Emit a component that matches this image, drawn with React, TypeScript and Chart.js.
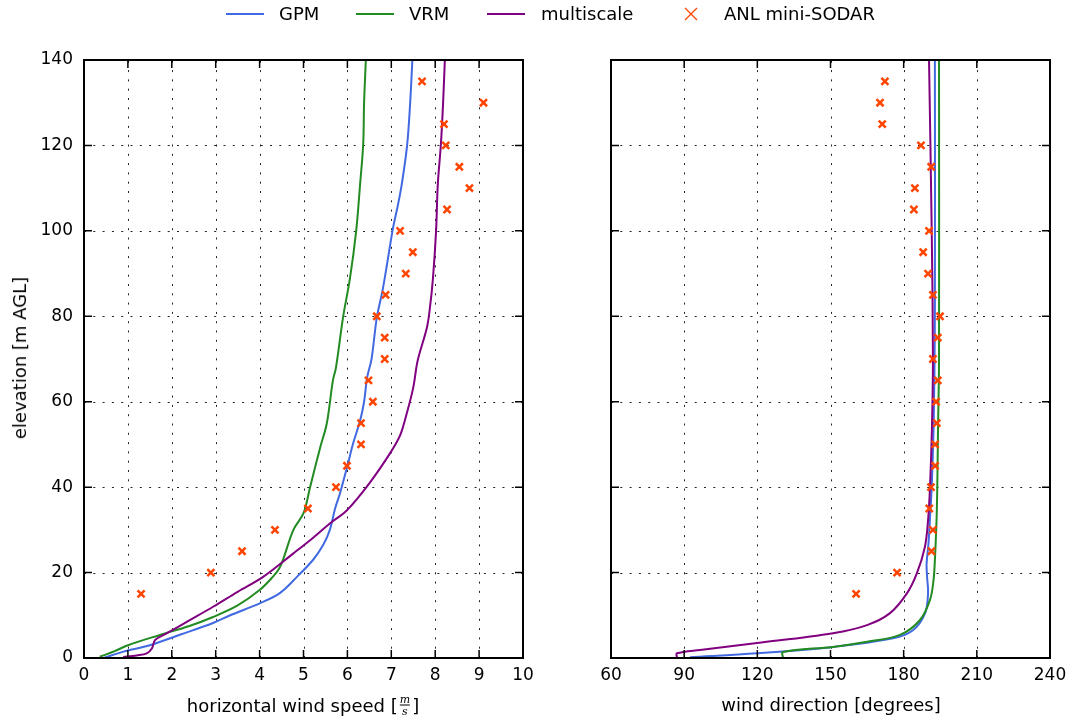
import React, { useEffect, useRef } from "react";
import { Chart, registerables } from "chart.js";

Chart.register(...registerables);

// ---------- data ----------
// left panel: horizontal wind speed [m/s] vs elevation [m AGL]
const gpmSpeed = [0.45, 0.9, 1.5, 2.2, 2.94, 3.33, 4.0, 4.46, 4.85, 5.22, 5.45, 5.6, 5.72, 5.83, 5.99, 6.13, 6.29, 6.38, 6.45, 6.55, 6.67, 6.8, 6.9, 7.04, 7.15, 7.24, 7.36, 7.43, 7.48];
const gpmSpeedElev = [0, 1.5, 3, 5.5, 8.2, 10, 12.8, 15.2, 19, 23, 26.5, 30, 35, 38.5, 44.6, 50.2, 55.6, 60, 65.7, 70, 79.7, 86, 92, 100.7, 106, 111, 120, 130, 140];

const vrmSpeed = [0.36, 0.7, 1.0, 1.73, 2.4, 2.94, 3.5, 4.0, 4.3, 4.45, 4.55, 4.77, 5.0, 5.15, 5.38, 5.53, 5.67, 5.74, 5.9, 6.06, 6.2, 6.29, 6.36, 6.38, 6.42];
const vrmSpeedElev = [0.3, 1.6, 3, 5.4, 7.5, 9.6, 12.3, 15.9, 19, 21, 23.5, 30, 33.9, 40, 49.3, 54.9, 65, 68, 79.7, 89, 100, 111, 120.3, 130, 140];

const msSpeed = [0.89, 1.2, 1.43, 1.55, 1.62, 1.89, 2.4, 2.94, 3.5, 4.08, 4.77, 5.2, 5.6, 5.99, 6.5, 6.97, 7.2, 7.35, 7.5, 7.6, 7.81, 7.88, 7.95, 8.02, 8.06, 8.13, 8.18, 8.22];
const msSpeedElev = [0.2, 0.6, 1.1, 2.3, 4.2, 5.8, 8.8, 12, 15.5, 19, 24.5, 28, 31.5, 34.6, 40.9, 47.9, 52.1, 57.2, 63.3, 69.6, 77.3, 82, 89, 100, 111, 120.3, 130, 140];

// ANL mini-SODAR observations
const sodarElev = [15, 20, 25, 30, 35, 40, 45, 50, 55, 60, 65, 70, 75, 80, 85, 90, 95, 100, 105, 110, 115, 120, 125, 130, 135];
const sodarSpeed = [1.3, 2.89, 3.6, 4.35, 5.1, 5.74, 5.99, 6.31, 6.31, 6.58, 6.48, 6.85, 6.85, 6.67, 6.87, 7.33, 7.49, 7.2, 8.27, 8.78, 8.55, 8.24, 8.2, 9.1, 7.7];
const sodarDir = [160.5, 177.3, 191.4, 192, 190.5, 191.2, 192.9, 192.9, 193.6, 193.3, 194, 192, 194, 194.9, 192, 190, 188, 190.4, 184.2, 184.6, 191.3, 187.1, 171.2, 170.3, 172.3];

// right panel: wind direction [degrees] vs elevation
const gpmDir = [92.4, 119.9, 151, 175.6, 183.8, 188.8, 190, 189.6, 189.4, 190.2, 191, 191.5, 192.3, 192.8, 192.8];
const gpmDirElev = [0.2, 1.1, 2.6, 4.6, 6.5, 10.5, 15.2, 19, 22, 27, 35, 40, 55, 80, 140];

const vrmDir = [130.5, 130.5, 151, 165, 178.5, 186.7, 190.8, 192.2, 192.8, 193.6, 194.1, 194.5, 194.5];
const vrmDirElev = [0, 1.4, 2.6, 3.8, 5.4, 8.9, 13.6, 18, 22.9, 34.6, 54, 70, 140];

const msDir = [87, 87, 96.5, 119.9, 151, 165, 174.4, 181.4, 185.4, 188.7, 190, 190.8, 191.6, 192, 191.5, 190.4];
const msDirElev = [0.2, 1.1, 1.9, 3.5, 5.8, 7.7, 10.5, 15.2, 19.8, 26, 32.2, 40, 54, 70, 100, 140];

const speedTicks = { min: 0, max: 10, step: 1 };
const dirTicks = { min: 60, max: 240, step: 30 };
const elevTicks = { min: 0, max: 140, step: 20 };

const seriesNames = ["GPM", "VRM", "multiscale", "ANL mini-SODAR"];
const seriesColors = ["#4169E1", "#228B22", "#800080", "#FF4500"];

// ---------- helpers ----------
const FONT = "'DejaVu Sans', sans-serif";
const zip = (xs: number[], ys: number[]) => xs.map((x, i) => ({ x, y: ys[i] }));

const framePlugin = {
  id: "mplFrame",
  beforeDatasetsDraw(chart: any) {
    const { ctx, chartArea } = chart;
    const { left, right, top, bottom } = chartArea;
    const xs = chart.scales.x;
    const ys = chart.scales.y;
    ctx.save();
    ctx.strokeStyle = "#222";
    ctx.lineWidth = 1;
    ctx.setLineDash([2, 7.3]);
    xs.ticks.forEach((t: any) => {
      const p = Math.round(xs.getPixelForValue(t.value)) + 0.5;
      if (p <= left + 2 || p >= right - 2) return;
      ctx.beginPath();
      ctx.moveTo(p, bottom);
      ctx.lineTo(p, top);
      ctx.stroke();
    });
    ys.ticks.forEach((t: any) => {
      const p = Math.round(ys.getPixelForValue(t.value)) + 0.5;
      if (p <= top + 2 || p >= bottom - 2) return;
      ctx.beginPath();
      ctx.moveTo(left, p);
      ctx.lineTo(right, p);
      ctx.stroke();
    });
    ctx.restore();
  },
  afterDatasetsDraw(chart: any) {
    const { ctx, chartArea } = chart;
    const { left, right, top, bottom } = chartArea;
    const xs = chart.scales.x;
    const ys = chart.scales.y;
    ctx.save();
    ctx.strokeStyle = "#000";
    ctx.lineWidth = 1.5;
    const tl = 8;
    xs.ticks.forEach((t: any) => {
      const p = xs.getPixelForValue(t.value);
      ctx.beginPath();
      ctx.moveTo(p, bottom);
      ctx.lineTo(p, bottom - tl);
      ctx.moveTo(p, top);
      ctx.lineTo(p, top + tl);
      ctx.stroke();
    });
    ys.ticks.forEach((t: any) => {
      const p = ys.getPixelForValue(t.value);
      ctx.beginPath();
      ctx.moveTo(left, p);
      ctx.lineTo(left + tl, p);
      ctx.moveTo(right, p);
      ctx.lineTo(right - tl, p);
      ctx.stroke();
    });
    ctx.lineWidth = 2;
    ctx.strokeRect(left, top, right - left, bottom - top);
    ctx.restore();
  },
};

function lineDs(label: string, color: string, pts: { x: number; y: number }[]) {
  return {
    label,
    data: pts,
    showLine: true,
    borderColor: color,
    backgroundColor: color,
    borderWidth: 2,
    pointRadius: 0,
    tension: 0.35,
    fill: false,
  };
}

function markerDs(label: string, color: string, pts: { x: number; y: number }[]) {
  return {
    label,
    data: pts,
    showLine: false,
    pointStyle: "crossRot",
    pointRadius: 5,
    pointBorderWidth: 2.5,
    pointBorderColor: color,
    pointBackgroundColor: color,
    borderColor: color,
  };
}

const noPad = (s: any) => {
  s.paddingLeft = 0;
  s.paddingRight = 0;
  s.paddingTop = 0;
  s.paddingBottom = 0;
};

function makeConfig(
  datasets: any[],
  xt: { min: number; max: number; step: number },
  showY: boolean,
  yWidth: number,
  padRight: number
) {
  return {
    type: "scatter",
    data: { datasets },
    options: {
      animation: false,
      responsive: false,
      devicePixelRatio: 1,
      layout: { padding: { top: 60, right: padRight, left: 0, bottom: 0 } },
      plugins: { legend: { display: false }, tooltip: { enabled: false } },
      scales: {
        x: {
          type: "linear",
          min: xt.min,
          max: xt.max,
          grid: { display: false, drawTicks: false },
          border: { display: false },
          ticks: {
            stepSize: xt.step,
            color: "#000",
            font: { family: FONT, size: 17 },
            padding: 7,
            maxRotation: 0,
            autoSkip: false,
          },
          afterFit: (s: any) => {
            s.height = 61;
            noPad(s);
          },
        },
        y: {
          type: "linear",
          min: elevTicks.min,
          max: elevTicks.max,
          grid: { display: false, drawTicks: false },
          border: { display: false },
          ticks: {
            display: showY,
            stepSize: elevTicks.step,
            color: "#000",
            font: { family: FONT, size: 17 },
            padding: 11,
            autoSkip: false,
          },
          afterFit: (s: any) => {
            s.width = yWidth;
            noPad(s);
          },
        },
      },
    },
    plugins: [framePlugin],
  };
}

function useChart(ref: React.RefObject<HTMLCanvasElement>, cfg: () => any) {
  useEffect(() => {
    if (!ref.current) return;
    const chart = new Chart(ref.current, cfg());
    return () => chart.destroy();
  }, []);
}

export default function App() {
  const leftRef = useRef<HTMLCanvasElement>(null);
  const rightRef = useRef<HTMLCanvasElement>(null);

  useChart(leftRef, () =>
    makeConfig(
      [
        markerDs(seriesNames[3], seriesColors[3], zip(sodarSpeed, sodarElev)),
        lineDs(seriesNames[2], seriesColors[2], zip(msSpeed, msSpeedElev)),
        lineDs(seriesNames[1], seriesColors[1], zip(vrmSpeed, vrmSpeedElev)),
        lineDs(seriesNames[0], seriesColors[0], zip(gpmSpeed, gpmSpeedElev)),
      ],
      speedTicks,
      true,
      84,
      17
    )
  );
  useChart(rightRef, () =>
    makeConfig(
      [
        markerDs(seriesNames[3], seriesColors[3], zip(sodarDir, sodarElev)),
        lineDs(seriesNames[2], seriesColors[2], zip(msDir, msDirElev)),
        lineDs(seriesNames[1], seriesColors[1], zip(vrmDir, vrmDirElev)),
        lineDs(seriesNames[0], seriesColors[0], zip(gpmDir, gpmDirElev)),
      ],
      dirTicks,
      false,
      71,
      21
    )
  );

  const textStyle: React.CSSProperties = {
    position: "absolute",
    fontFamily: FONT,
    fontSize: 18,
    color: "#000",
    whiteSpace: "nowrap",
    lineHeight: "20px",
  };
  const legendLine = (left: number, color: string) => (
    <div
      style={{ position: "absolute", left, top: 13, width: 38, height: 2, background: color }}
    />
  );

  return (
    <div
      style={{
        position: "absolute",
        left: 0,
        top: 0,
        width: 1071,
        height: 719,
        background: "#fff",
        overflow: "hidden",
      }}
    >
      <canvas
        ref={leftRef}
        width={540}
        height={719}
        style={{ position: "absolute", left: 0, top: 0, width: 540, height: 719 }}
      />
      <canvas
        ref={rightRef}
        width={531}
        height={719}
        style={{ position: "absolute", left: 540, top: 0, width: 531, height: 719 }}
      />

      {/* legend */}
      {legendLine(226, seriesColors[0])}
      <div style={{ ...textStyle, left: 279, top: 4 }}>{seriesNames[0]}</div>
      {legendLine(356, seriesColors[1])}
      <div style={{ ...textStyle, left: 409, top: 4 }}>{seriesNames[1]}</div>
      {legendLine(487, seriesColors[2])}
      <div style={{ ...textStyle, left: 541, top: 4 }}>{seriesNames[2]}</div>
      <svg
        width={14}
        height={14}
        style={{ position: "absolute", left: 684, top: 7 }}
      >
        <path d="M1 1 L13 13 M13 1 L1 13" stroke={seriesColors[3]} strokeWidth={1.3} fill="none" />
      </svg>
      <div style={{ ...textStyle, left: 724, top: 4 }}>{seriesNames[3]}</div>

      {/* y axis title */}
      <div
        style={{
          ...textStyle,
          left: 20,
          top: 358,
          transform: "translate(-50%, -50%) rotate(-90deg)",
        }}
      >
        elevation [m AGL]
      </div>

      {/* x axis titles */}
      <div
        style={{
          ...textStyle,
          left: 303,
          top: 705,
          transform: "translate(-50%, -50%)",
          display: "flex",
          alignItems: "center",
        }}
      >
        <span>horizontal wind speed [</span>
        <span
          style={{
            display: "inline-flex",
            flexDirection: "column",
            alignItems: "center",
            fontFamily: "'DejaVu Serif', serif",
            fontStyle: "italic",
            fontSize: 11,
            lineHeight: "11px",
            margin: "0 1px",
          }}
        >
          <span style={{ padding: "0 1px" }}>m</span>
          <span style={{ borderTop: "1px solid #000", padding: "0 2px" }}>s</span>
        </span>
        <span>]</span>
      </div>
      <div
        style={{
          ...textStyle,
          left: 831,
          top: 705,
          transform: "translate(-50%, -50%)",
        }}
      >
        wind direction [degrees]
      </div>
    </div>
  );
}
